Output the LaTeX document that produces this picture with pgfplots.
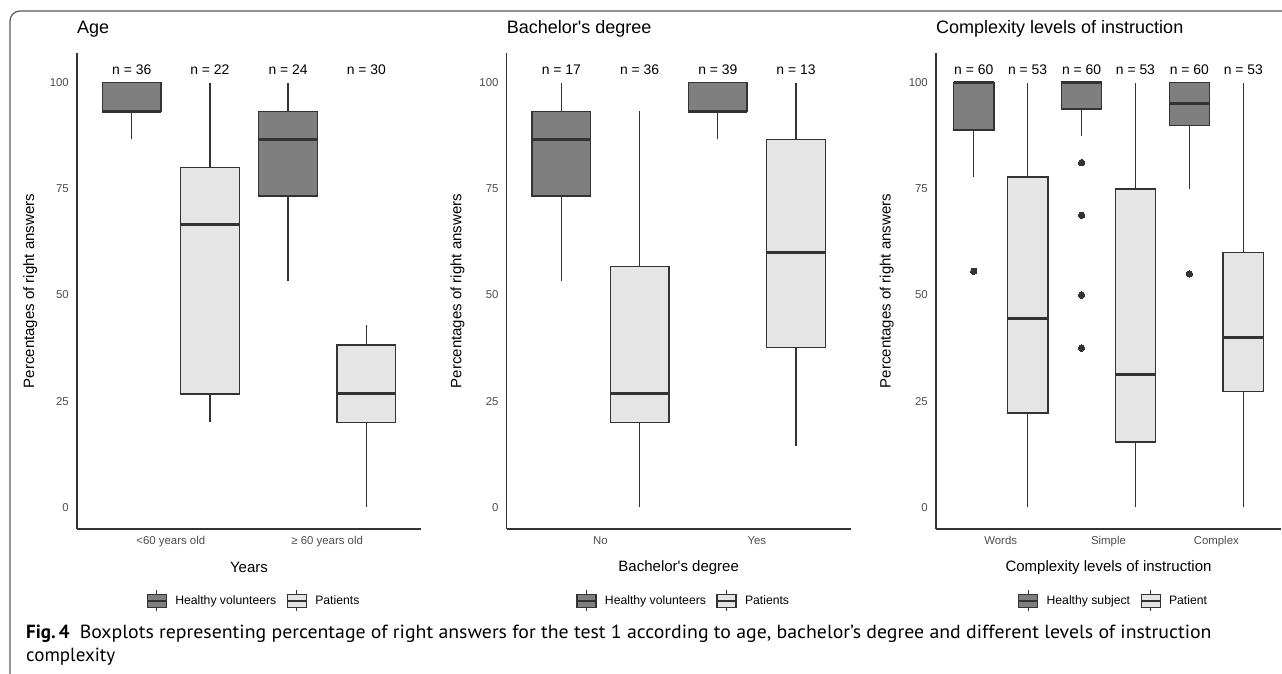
\documentclass[border=0pt]{standalone}
\usepackage{fontspec}
\setmainfont{Liberation Sans}[Ligatures=TeXOff]
\newfontfamily\capfont{PT Sans}
\usepackage{graphicx}
\usepackage{pgfplots}
\pgfplotsset{compat=1.18}

\definecolor{hfill}{HTML}{7F7F7F}
\definecolor{pfill}{HTML}{E5E5E5}
\definecolor{bline}{HTML}{333333}
\definecolor{tlab}{HTML}{4D4D4D}
\definecolor{framec}{HTML}{5A5A5A}

% one box: #1 centre, #2 fill, #3 lower whisker, #4 Q1, #5 median, #6 Q3, #7 upper whisker
\newcommand{\bxp}[7]{%
  \pgfmathsetmacro{\xl}{#1-0.1875}%
  \pgfmathsetmacro{\xr}{#1+0.1875}%
  \addplot[bline, line width=1.3pt, forget plot] coordinates {(#1,#3) (#1,#4)};
  \addplot[bline, line width=1.3pt, forget plot] coordinates {(#1,#6) (#1,#7)};
  \addplot[draw=bline, fill=#2, line width=1.3pt, forget plot] coordinates {(\xl,#4) (\xr,#4) (\xr,#6) (\xl,#6)} -- cycle;
  \addplot[bline, line width=3pt, forget plot] coordinates {(\xl,#5) (\xr,#5)};
}

\pgfplotsset{
  panel/.style={
    scale only axis, height=476pt,
    axis x line*=bottom, axis y line*=left,
    axis line style={bline, line width=1.4pt},
    major tick length=0pt,
    ymin=-5.1, ymax=107,
    ytick={0,25,50,75,100},
    clip=false,
    /pgf/number format/assume math mode=true,
    ticklabel style={font=\fontsize{11.4}{13}\selectfont, text=tlab},
    yticklabel style={inner sep=0pt, xshift=-8pt},
    xticklabel style={inner sep=0pt, yshift=-7pt},
    label style={font=\fontsize{15}{17}\selectfont},
    xlabel style={at={(axis description cs:0.5,-0.0805)}, anchor=center},
    title style={at={(axis description cs:0,1.038)}, anchor=west, inner sep=0pt, font=\fontsize{18}{20}\selectfont},
    legend style={at={(axis description cs:0.514,-0.151)}, anchor=center, draw=none, fill=none,
      font=\fontsize{12.2}{14}\selectfont,
      /tikz/every odd column/.append style={column sep=6pt},
      /tikz/every even column/.append style={column sep=8pt}},
    legend columns=2,
  },
  outl/.style={only marks, mark=*, mark size=3.2pt, bline, mark options={fill=bline, draw=bline, line width=0pt}, forget plot},
  hleg/.style={legend image code/.code={
      \draw[bline, line width=1.1pt] (9.5pt,6.5pt)--(9.5pt,10.5pt);
      \draw[bline, line width=1.1pt] (9.5pt,-6.5pt)--(9.5pt,-10.5pt);
      \draw[bline, fill=hfill, line width=1.1pt] (0pt,-6.5pt) rectangle (19pt,6.5pt);
      \draw[bline, line width=2pt] (0pt,0pt)--(19pt,0pt);}},
  pleg/.style={legend image code/.code={
      \draw[bline, line width=1.1pt] (9.5pt,6.5pt)--(9.5pt,10.5pt);
      \draw[bline, line width=1.1pt] (9.5pt,-6.5pt)--(9.5pt,-10.5pt);
      \draw[bline, fill=pfill, line width=1.1pt] (0pt,-6.5pt) rectangle (19pt,6.5pt);
      \draw[bline, line width=2pt] (0pt,0pt)--(19pt,0pt);}},
}

\begin{document}
\begin{tikzpicture}
\useasboundingbox (0pt,0pt) rectangle (1282pt,-674pt);
\fill[white] (0pt,0pt) rectangle (1282pt,-674pt);
\draw[framec, line width=1.2pt, rounded corners=10pt] (1283pt,-11pt) -- (10pt,-11pt) -- (10pt,-675pt);

% ---------------- Panel 1: Age ----------------
\begin{axis}[panel, at={(77pt,-529pt)}, anchor=south west, width=344pt,
  xmin=0.4, xmax=2.6, xtick={1,2}, xticklabels={<60 years old, ≥ 60 years old},
  xlabel={Years}, ylabel={Percentages of right answers},
  ylabel style={at={(axis description cs:-0.136,0.5)}, anchor=center},
  title={Age}]
\addlegendimage{hleg}\addlegendentry{Healthy volunteers}
\addlegendimage{pleg}\addlegendentry{Patients}
\bxp{0.75}{hfill}{86.7}{93.3}{93.3}{100}{100}
\bxp{1.25}{pfill}{20}{26.7}{66.7}{80}{100}
\bxp{1.75}{hfill}{53.3}{73.3}{86.7}{93.3}{100}
\bxp{2.25}{pfill}{0}{20}{26.9}{38.2}{42.9}
\node[font=\fontsize{13.9}{15}\selectfont] at (axis cs:0.75,103.1) {n = 36};
\node[font=\fontsize{13.9}{15}\selectfont] at (axis cs:1.25,103.1) {n = 22};
\node[font=\fontsize{13.9}{15}\selectfont] at (axis cs:1.75,103.1) {n = 24};
\node[font=\fontsize{13.9}{15}\selectfont] at (axis cs:2.25,103.1) {n = 30};
\end{axis}

% ---------------- Panel 2: Bachelor's degree ----------------
\begin{axis}[panel, at={(506.7pt,-529pt)}, anchor=south west, width=344pt,
  xmin=0.4, xmax=2.6, xtick={1,2}, xticklabels={No, Yes},
  xlabel={Bachelor's degree}, ylabel={Percentages of right answers},
  ylabel style={at={(axis description cs:-0.143,0.5)}, anchor=center},
  title={Bachelor's degree}]
\addlegendimage{hleg}\addlegendentry{Healthy volunteers}
\addlegendimage{pleg}\addlegendentry{Patients}
\bxp{0.75}{hfill}{53.3}{73.3}{86.7}{93.3}{100}
\bxp{1.25}{pfill}{0}{20}{26.9}{56.7}{93.3}
\bxp{1.75}{hfill}{86.7}{93.3}{93.3}{100}{100}
\bxp{2.25}{pfill}{14.4}{37.6}{60}{86.7}{100}
\node[font=\fontsize{13.9}{15}\selectfont] at (axis cs:0.75,103.1) {n = 17};
\node[font=\fontsize{13.9}{15}\selectfont] at (axis cs:1.25,103.1) {n = 36};
\node[font=\fontsize{13.9}{15}\selectfont] at (axis cs:1.75,103.1) {n = 39};
\node[font=\fontsize{13.9}{15}\selectfont] at (axis cs:2.25,103.1) {n = 13};
\end{axis}

% ---------------- Panel 3: Complexity ----------------
\begin{axis}[panel, at={(936pt,-529pt)}, anchor=south west, width=345pt,
  xmin=0.4, xmax=3.6, xtick={1,2,3}, xticklabels={Words, Simple, Complex},
  xlabel={Complexity levels of instruction}, ylabel={Percentages of right answers},
  ylabel style={at={(axis description cs:-0.143,0.5)}, anchor=center},
  title={Complexity levels of instruction}]
\addlegendimage{hleg}\addlegendentry{Healthy subject}
\addlegendimage{pleg}\addlegendentry{Patient}
\bxp{0.75}{hfill}{77.8}{88.9}{100}{100}{100}
\bxp{1.25}{pfill}{0}{22.2}{44.4}{77.8}{100}
\bxp{1.75}{hfill}{87.5}{93.8}{100}{100}{100}
\bxp{2.25}{pfill}{0}{15.4}{31.3}{75}{100}
\bxp{2.75}{hfill}{75}{90}{95}{100}{100}
\bxp{3.25}{pfill}{0}{27.3}{40}{60}{100}
\addplot[outl] coordinates {(0.75,55.6) (1.75,81.2) (1.75,68.8) (1.75,50) (1.75,37.5) (2.75,55)};
\node[font=\fontsize{13.9}{15}\selectfont] at (axis cs:0.75,103.1) {n = 60};
\node[font=\fontsize{13.9}{15}\selectfont] at (axis cs:1.25,103.1) {n = 53};
\node[font=\fontsize{13.9}{15}\selectfont] at (axis cs:1.75,103.1) {n = 60};
\node[font=\fontsize{13.9}{15}\selectfont] at (axis cs:2.25,103.1) {n = 53};
\node[font=\fontsize{13.9}{15}\selectfont] at (axis cs:2.75,103.1) {n = 60};
\node[font=\fontsize{13.9}{15}\selectfont] at (axis cs:3.25,103.1) {n = 53};
\end{axis}

% ---------------- Caption ----------------
\node[anchor=base west, inner sep=0pt, font=\capfont\fontsize{19}{23}\selectfont] at (26pt,-638.3pt)
  {\textbf{Fig.\,4}\hspace{10pt}\resizebox{1131.7pt}{\height}{Boxplots representing percentage of right answers for the test 1 according to age, bachelor’s degree and different levels of instruction}};
\node[anchor=base west, inner sep=0pt, font=\capfont\fontsize{19}{23}\selectfont] at (26pt,-661.7pt)
  {complexity};
\end{tikzpicture}
\end{document}
